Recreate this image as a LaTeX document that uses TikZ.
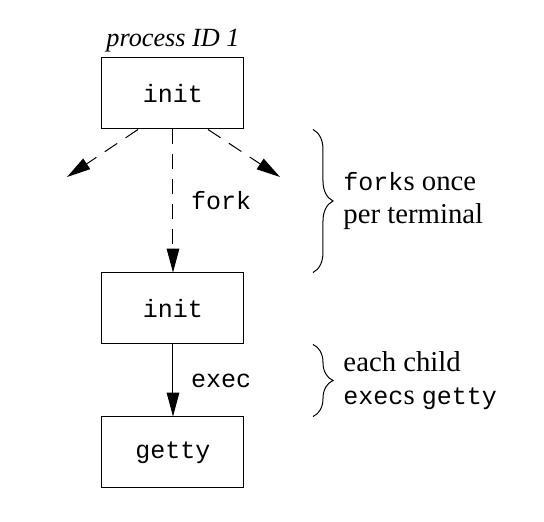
\documentclass[tikz,border=0pt]{standalone}
\usepackage{fontspec}
\setmainfont{Liberation Serif}
\setmonofont{Liberation Mono}
\usetikzlibrary{arrows.meta,positioning,calc,decorations.pathreplacing}
\newcommand\prog[1]{{\ttfamily\fontsize{10}{13}\selectfont #1}}

\begin{document}
\begin{tikzpicture}[
    proc/.style={draw,minimum width=56.8pt,minimum height=28.4pt,font=\ttfamily\fontsize{10}{12}\selectfont},
    arrow/.style={-{Triangle[length=9.5pt,width=5pt]}},
    dasharrow/.style={arrow,dash pattern=on 6pt off 4pt},
    lbl/.style={font=\ttfamily\fontsize{10}{12}\selectfont,inner sep=0pt},
    note/.style={align=left,inner sep=0pt,font=\fontsize{11.5}{13}\selectfont},
    brc/.style={decorate,decoration={brace,amplitude=8pt}}
  ]
  \useasboundingbox (0,0) rectangle (217.6pt,-208.8pt);
  \node[proc] (init1) at (69.2pt,-37.4pt) {init};
  \node[above=2pt of init1,inner sep=0pt,font=\itshape\fontsize{10.5}{12}\selectfont] (pid) {process ID 1};
  \node[proc,below=57.2pt of init1] (init2) {init};
  \node[proc,below=28.8pt of init2] (getty) {getty};
  % children forked for the other terminals
  \coordinate (lt) at (26.8pt,-70.8pt);
  \coordinate (rt) at (112pt,-70.8pt);
  \draw[dasharrow] ([xshift=-14pt]init1.south) -- (lt);
  \draw[dasharrow] ([xshift=14pt]init1.south) -- (rt);
  \draw[dasharrow] (init1) -- node[lbl,right=7pt] (forklbl) {fork} (init2);
  \draw[arrow] (init2) -- node[lbl,right=7pt] (execlbl) {exec} (getty);
  % braces with notes
  \coordinate (bx) at (125.2pt,0);
  \draw[brc] (bx |- init1.south) -- (bx |- init2.north)
    node[midway,right=12pt,note] (forknote) {\prog{fork}s once\\per terminal};
  \draw[brc] (bx |- init2.south) -- (bx |- getty.north)
    node[midway,right=12pt,note] (execnote) {each child\\\prog{exec}s \prog{getty}};
\end{tikzpicture}
\end{document}
